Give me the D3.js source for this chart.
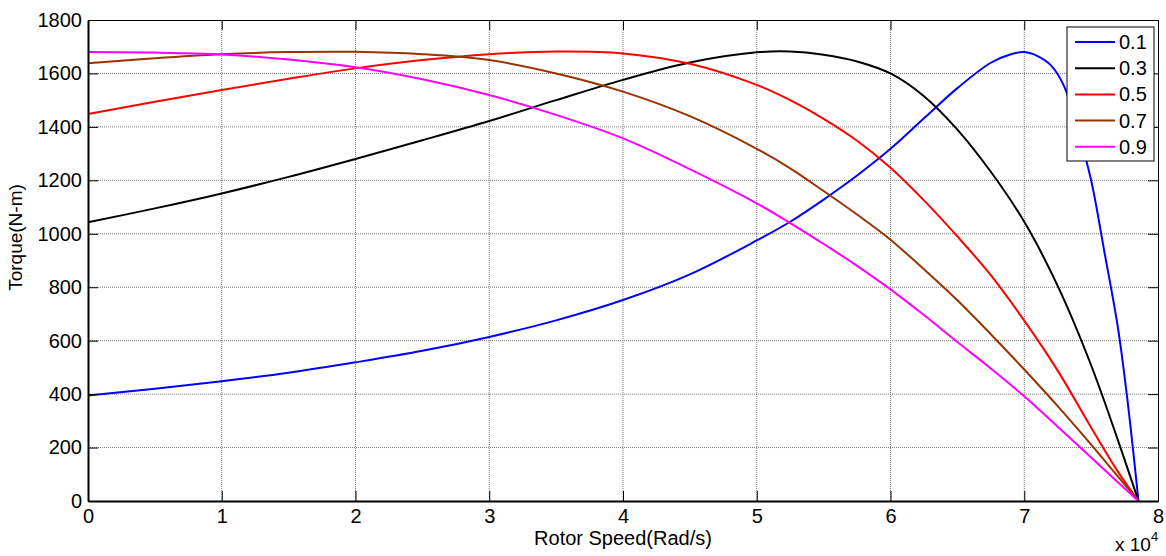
<!DOCTYPE html>
<html>
<head>
<meta charset="utf-8">
<script src="https://cdn.jsdelivr.net/npm/d3@7"></script>
<style>
  body { margin: 0; background: #fff; }
  svg text { font-family: Arial, "Liberation Sans", Helvetica, sans-serif; }
</style>
</head>
<body>
<div id="chart"></div>
<script>
var width = 1166,
    height = 556,
    margin = {top: 20, right: 8, bottom: 55, left: 88};

// rotor speed (rad/s) shared by the 0.3 .. 0.9 curves
var speed = [0, 5000, 10000, 15000, 20000, 25000, 30000, 35000, 40000, 45000, 50000, 52500,
             55000, 57500, 60000, 62500, 65000, 67500, 70000, 72500, 75000, 77000, 78540];
// the 0.1 curve needs more points round its sharp peak
var speedBlue = [0, 5000, 10000, 15000, 20000, 25000, 30000, 35000, 40000, 45000, 50000, 52500,
                 55000, 57500, 60000, 62500, 65000, 67500, 69000, 70000, 71000, 72000, 73000,
                 74000, 75000, 76000, 77000, 77700, 78540];

var torque01 = [395, 420, 448, 480, 519, 562, 614, 676, 752, 848, 975, 1045,
                1128, 1218, 1318, 1432, 1545, 1640, 1672, 1680, 1665, 1630, 1550,
                1390, 1200, 930, 650, 385, 0];
var torque03 = [1043, 1095, 1151, 1213, 1280, 1350, 1422, 1500, 1576, 1641, 1679, 1682,
                1670, 1645, 1600, 1515, 1390, 1232, 1045, 805, 508, 228, 0];
var torque05 = [1448, 1494, 1538, 1580, 1619, 1650, 1672, 1682, 1675, 1636, 1557, 1500,
                1430, 1348, 1247, 1125, 990, 845, 675, 488, 275, 110, 0];
var torque07 = [1638, 1657, 1672, 1680, 1681, 1672, 1650, 1600, 1532, 1440, 1318, 1245,
                1160, 1072, 978, 867, 751, 624, 492, 355, 211, 92, 0];
var torque09 = [1680, 1678, 1671, 1652, 1623, 1578, 1519, 1445, 1357, 1242, 1114, 1040,
                962, 880, 792, 696, 595, 496, 392, 278, 163, 70, 0];

var seriesNames = ["0.1", "0.3", "0.5", "0.7", "0.9"];
var seriesColors = ["#0000ff", "#000000", "#ff0000", "#993300", "#ff00ff"];

var xTicks = [0, 10000, 20000, 30000, 40000, 50000, 60000, 70000, 80000];
var yTicks = [0, 200, 400, 600, 800, 1000, 1200, 1400, 1600, 1800];

var series = [
  {name: seriesNames[0], color: seriesColors[0], x: speedBlue, y: torque01},
  {name: seriesNames[1], color: seriesColors[1], x: speed, y: torque03},
  {name: seriesNames[2], color: seriesColors[2], x: speed, y: torque05},
  {name: seriesNames[3], color: seriesColors[3], x: speed, y: torque07},
  {name: seriesNames[4], color: seriesColors[4], x: speed, y: torque09}
];

var w = width - margin.left - margin.right,
    h = height - margin.top - margin.bottom;

var svg = d3.select("#chart").append("svg")
    .attr("width", width)
    .attr("height", height);

var g = svg.append("g")
    .attr("transform", "translate(" + margin.left + "," + margin.top + ")");

var x = d3.scaleLinear().domain([0, 80000]).range([0, w]);
var y = d3.scaleLinear().domain([0, 1800]).range([h, 0]);

// dotted grid
g.append("g").selectAll("line.gx")
  .data(xTicks.slice(1, -1))
  .enter().append("line")
  .attr("x1", d => x(d)).attr("x2", d => x(d))
  .attr("y1", 0).attr("y2", h)
  .attr("stroke", "#7a7a7a").attr("stroke-width", 1)
  .attr("stroke-dasharray", "1,1");

g.append("g").selectAll("line.gy")
  .data(yTicks.slice(1, -1))
  .enter().append("line")
  .attr("x1", 0).attr("x2", w)
  .attr("y1", d => y(d)).attr("y2", d => y(d))
  .attr("stroke", "#7a7a7a").attr("stroke-width", 1)
  .attr("stroke-dasharray", "1,1");

// curves
var line = d3.line()
  .curve(d3.curveCatmullRom.alpha(0.5));

series.forEach(function(s) {
  var pts = s.x.map(function(v, i) { return [x(v), y(s.y[i])]; });
  g.append("path")
    .datum(pts)
    .attr("d", line)
    .attr("fill", "none")
    .attr("stroke", s.color)
    .attr("stroke-width", 2);
});

// axes with inward ticks on all four sides
var fmtX = d => d / 10000;
var xAxis = g.append("g")
  .attr("transform", "translate(0," + h + ")")
  .call(d3.axisBottom(x).tickValues(xTicks).tickFormat(fmtX).tickSizeInner(-10).tickSizeOuter(0).tickPadding(8));
var yAxis = g.append("g")
  .call(d3.axisLeft(y).tickValues(yTicks).tickFormat(d3.format("d")).tickSizeInner(-10).tickSizeOuter(0).tickPadding(6));
var xTop = g.append("g")
  .call(d3.axisTop(x).tickValues(xTicks).tickFormat("").tickSizeInner(-10).tickSizeOuter(0));
var yRight = g.append("g")
  .attr("transform", "translate(" + w + ",0)")
  .call(d3.axisRight(y).tickValues(yTicks).tickFormat("").tickSizeInner(-10).tickSizeOuter(0));

[xAxis, yAxis, xTop, yRight].forEach(function(a) {
  a.select(".domain").attr("stroke", "#000").attr("stroke-width", 2);
  a.selectAll(".tick line").attr("stroke", "#000").attr("stroke-width", 1);
  a.selectAll("text").attr("fill", "#000").style("font-size", "20px")
    .style("font-family", "Arial, 'Liberation Sans', sans-serif");
});
xTop.select(".domain").attr("stroke-width", 1);
yRight.select(".domain").attr("stroke-width", 1);

// axis labels
g.append("text")
  .attr("x", w / 2).attr("y", h + 44)
  .attr("text-anchor", "middle")
  .style("font-size", "20px")
  .text("Rotor Speed(Rad/s)");

g.append("text")
  .attr("transform", "translate(-66," + (h / 2 - 23) + ") rotate(-90)")
  .attr("text-anchor", "middle")
  .style("font-size", "19px")
  .text("Torque(N-m)");

var expo = g.append("text")
  .attr("x", w - 43).attr("y", h + 50)
  .style("font-size", "19px");
expo.append("tspan").text("x 10");
expo.append("tspan").attr("dy", -10).style("font-size", "13px").text("4");

// legend
var lg = g.append("g").attr("transform", "translate(" + (w - 91) + ",7)");
lg.append("rect")
  .attr("width", 87).attr("height", 134)
  .attr("fill", "#fff").attr("stroke", "#000").attr("stroke-width", 1);
var items = lg.selectAll("g.item")
  .data(series)
  .enter().append("g")
  .attr("transform", (d, i) => "translate(0," + (15 + i * 26.2) + ")");
items.append("line")
  .attr("x1", 8).attr("x2", 48)
  .attr("stroke", d => d.color).attr("stroke-width", 2);
items.append("text")
  .attr("x", 52).attr("y", 7)
  .style("font-size", "20px")
  .text(d => d.name);
</script>
</body>
</html>
